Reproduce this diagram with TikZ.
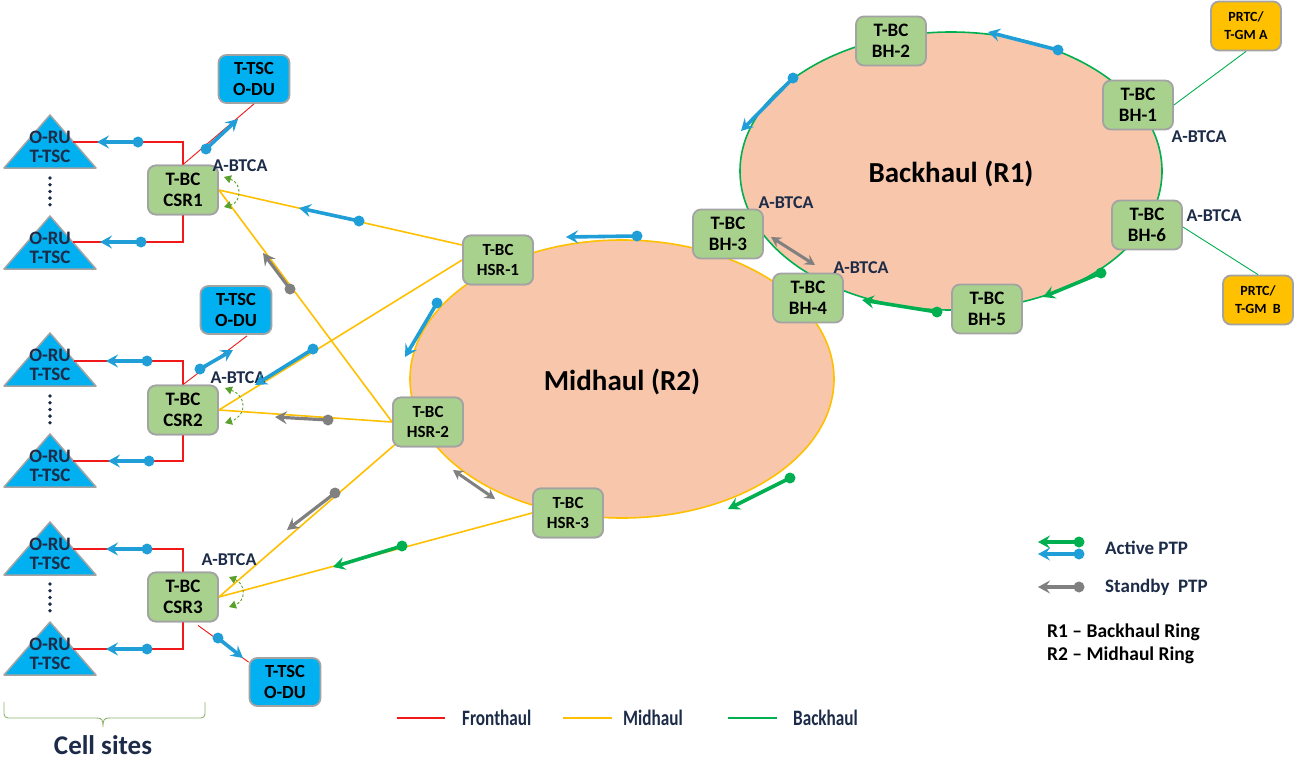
\documentclass[tikz,border=0pt]{standalone}
\usepackage{fontspec}
\setmainfont{Carlito}
\usetikzlibrary{arrows.meta,calc}
\definecolor{ndgreen}{HTML}{A9D18E}
\definecolor{ndborder}{HTML}{A3A3A3}
\definecolor{ndblue}{HTML}{00B0F0}
\definecolor{ndorange}{HTML}{FFC000}
\definecolor{ringfill}{HTML}{F8C6AB}
\definecolor{ringgreen}{HTML}{00B050}
\definecolor{ringyellow}{HTML}{FFC000}
\definecolor{fhred}{HTML}{F01818}
\definecolor{ptpblue}{HTML}{1F9ED7}
\definecolor{ptpgreen}{HTML}{00B050}
\definecolor{ptpgrey}{HTML}{808080}
\definecolor{navy}{HTML}{1C2B48}
\definecolor{arcgreen}{HTML}{5AA02C}
\definecolor{bracegreen}{HTML}{8DB36E}
\newcommand\ptparr[3]{%
  \fill[#1] #2 circle (5.5pt);
  \draw[#1, line width=3.6pt, -{Stealth[length=12pt,width=13pt,inset=4.5pt]}] #2 -- #3;
}
\newcommand\sbyarr[2]{%
  \fill[ptpgrey] #1 circle (5.5pt);
  \draw[ptpgrey, line width=3.2pt, -{Stealth[length=12pt,width=13pt,inset=4.5pt]}] #1 -- #2;
}
\newcommand\rutri[2]{% apex y, name
  \fill[ndblue, draw=ndborder, line width=1.5pt, line join=round] (50,#1) -- (96,#1+53) -- (4,#1+53) -- cycle;
  \node[rutext] (#2) at (50,#1+32) {O-RU\\T-TSC};
}
\newcommand\rudots[1]{%
  \foreach \i in {0,...,4} \fill[navy] (50,#1+6.7*\i) circle (1.9pt);
}
\begin{document}
\begin{tikzpicture}[x=1pt,y=-1pt,
  tbc/.style={draw=ndborder, line width=1.8pt, fill=ndgreen, rounded corners=8pt,
    minimum width=70pt, minimum height=49pt, inner sep=0pt, align=center,
    font=\bfseries\fontsize{19}{21}\selectfont},
  hsr/.style={tbc, font=\bfseries\fontsize{17}{20}\selectfont},
  odu/.style={tbc, fill=ndblue, minimum width=71pt, minimum height=48pt,
    font=\bfseries\fontsize{18.5}{21}\selectfont},
  prtc/.style={tbc, fill=ndorange, font=\bfseries\fontsize{14}{18}\selectfont},
  rutext/.style={inner sep=0pt, align=center, text=navy, font=\bfseries\fontsize{19}{18.5}\selectfont},
  abl/.style={inner sep=0pt, text=navy, font=\bfseries\fontsize{18}{19}\selectfont},
  fh/.style={draw=fhred, line width=2pt},
  fhthin/.style={draw=fhred, line width=0.9pt},
  mh/.style={draw=ringyellow, line width=1.6pt},
  bhthin/.style={draw=ringgreen, line width=0.9pt},
  abtca/.style={draw=arcgreen, line width=0.9pt, dash pattern=on 2.5pt off 2pt,
    {Triangle[length=7pt,width=8pt]}-{Triangle[length=7pt,width=8pt]}},
  dbl/.style={draw=ptpgrey, line width=3pt,
    {Stealth[length=10pt,width=11pt,inset=3.5pt]}-{Stealth[length=10pt,width=11pt,inset=3.5pt]}},
  legtext/.style={anchor=west, inner sep=0pt, text=navy, font=\bfseries\fontsize{19}{22}\selectfont},
]
\useasboundingbox (0,0) rectangle (1295,760);
\fill[white] (0,0) rectangle (1295,760);

% rings
\draw[fill=ringfill, draw=ringgreen, line width=1.6pt] (951,171) ellipse [x radius=211, y radius=139];
\draw[fill=ringfill, draw=ringyellow, line width=1.6pt] (622,379) ellipse [x radius=212, y radius=139];
\node[font=\bfseries\fontsize{29}{32}\selectfont] (r1lab) at (951,174) {Backhaul (R1)};
\node[font=\bfseries\fontsize{29}{32}\selectfont] (r2lab) at (622,382) {Midhaul (R2)};

% O-RU triangles
\rutri{115}{ru11}
\rutri{216}{ru12}
\rutri{333}{ru21}
\rutri{434}{ru22}
\rutri{522}{ru31}
\rutri{622}{ru32}
\rudots{178}
\rudots{396}
\rudots{584}
\coordinate (ru11e) at (73,142);
\coordinate (ru12e) at (73,242);
\coordinate (ru21e) at (74,361);
\coordinate (ru22e) at (73,461);
\coordinate (ru31e) at (73,549);
\coordinate (ru32e) at (73,649);

% nodes (positions)
\node[tbc] (csr1) at (183,190) {T-BC\\CSR1};
\node[tbc] (csr2) at (183,410) {T-BC\\CSR2};
\node[tbc] (csr3) at (183,597) {T-BC\\CSR3};
\node[hsr] (hsr1) at (498,260) {T-BC\\HSR-1};
\node[hsr] (hsr2) at (428,422) {T-BC\\HSR-2};
\node[hsr] (hsr3) at (568,513) {T-BC\\HSR-3};

% midhaul links
\draw[mh] (csr1.east) -- ($(hsr1.west)+(0,-15)$);
\draw[mh] (csr1.east) -- (hsr2.west);
\draw[mh] (csr2.east) -- (hsr1.west);
\draw[mh] (csr2.east) -- (hsr2.west);
\draw[mh] (csr3.east) -- ($(hsr2.south west)+(3,-3)$);
\draw[mh] (csr3.east) -- (hsr3.west);

% fronthaul links
\draw[fh] (csr1.north) |- (ru11e);
\draw[fh] (csr1.south) |- (ru12e);
\draw[fh] (csr2.north) |- (ru21e);
\draw[fh] (csr2.south) |- (ru22e);
\draw[fh] (csr3.north) |- (ru31e);
\draw[fh] (csr3.south) |- (ru32e);

\node[odu] (odu1) at (254,79) {T-TSC\\O-DU};
\node[odu] (odu2) at (236,310) {T-TSC\\O-DU};
\node[odu] (odu3) at (285,682) {T-TSC\\O-DU};
\draw[fhthin] (csr1.north) -- (odu1.south);
\draw[fhthin] (csr2.north) -- ($(odu2.south)+(11,1)$);
\draw[fhthin] ($(csr3.south)+(15,3)$) -- ($(odu3.north west)+(0,5)$);

% redraw CSR nodes on top
\node[tbc] at (csr1) {T-BC\\CSR1};
\node[tbc] at (csr2) {T-BC\\CSR2};
\node[tbc] at (csr3) {T-BC\\CSR3};
\node[hsr] at (hsr1) {T-BC\\HSR-1};
\node[hsr] at (hsr2) {T-BC\\HSR-2};
\node[hsr] at (hsr3) {T-BC\\HSR-3};

% backhaul nodes
\node[tbc] (bh1) at (1138,105) {T-BC\\BH-1};
\node[tbc] (bh2) at (891,41) {T-BC\\BH-2};
\node[tbc] (bh3) at (728,234) {T-BC\\BH-3};
\node[tbc] (bh4) at (808,298) {T-BC\\BH-4};
\node[tbc] (bh5) at (987,309) {T-BC\\BH-5};
\node[tbc] (bh6) at (1147,225) {T-BC\\BH-6};
\node[prtc] (prtca) at (1246,26) {PRTC/\\T-GM A};
\node[prtc] (prtcb) at (1258,300) {PRTC/\\T-GM~~B};
\draw[bhthin] (bh1.east) -- (prtca.south);
\draw[bhthin] ($(bh6.east)+(0,2)$) -- (prtcb.north);

% A-BTCA labels
\node[abl] (ab1) at (240,166) {A-BTCA};
\node[abl] (ab2) at (238,378) {A-BTCA};
\node[abl] (ab3) at (229,560) {A-BTCA};
\node[abl] (ab4) at (786,203) {A-BTCA};
\node[abl] (ab5) at (861,268) {A-BTCA};
\node[abl] (ab6) at (1199,137) {A-BTCA};
\node[abl] (ab7) at (1214,216) {A-BTCA};

% A-BTCA dashed arcs
\draw[abtca] (224,177) .. controls (242,183) and (242,202) .. (224,207);
\draw[abtca] (225,388) .. controls (247,396) and (247,416) .. (225,423);
\draw[abtca] (229,577) .. controls (246,584) and (246,601) .. (229,607);

% fronthaul PTP
\ptparr{ptpblue}{(138,142)}{(97,142)}
\ptparr{ptpblue}{(141,242)}{(100,242)}
\ptparr{ptpblue}{(147,361)}{(106,361)}
\ptparr{ptpblue}{(149,461)}{(108,461)}
\ptparr{ptpblue}{(147,549)}{(106,549)}
\ptparr{ptpblue}{(147,649)}{(106,649)}
\ptparr{ptpblue}{(206,149)}{(238,119)}
\ptparr{ptpblue}{(200,369)}{(233,350)}
\ptparr{ptpblue}{(218,638)}{(243,658)}

% midhaul PTP
\ptparr{ptpblue}{(359,221)}{(299,208)}
\sbyarr{(290,289)}{(263,253)}
\ptparr{ptpblue}{(313,349)}{(255,385)}
\sbyarr{(328,420)}{(275,417)}
\sbyarr{(335,493)}{(287,530)}
\ptparr{ptpgreen}{(402,546)}{(333,567)}
\ptparr{ptpblue}{(637,236)}{(566,237)}
\ptparr{ptpblue}{(437,303)}{(405,357)}
\draw[dbl] (453,470) -- (495,499);
\ptparr{ptpgreen}{(790,478)}{(728,509)}

% backhaul PTP
\ptparr{ptpblue}{(1058,50)}{(988,32)}
\ptparr{ptpblue}{(793,78)}{(741,131)}
\ptparr{ptpgreen}{(1101,273)}{(1043,297)}
\ptparr{ptpgreen}{(937,312)}{(862,300)}
\draw[dbl] (771,237) -- (815,265);

% legend PTP
\ptparr{ptpgreen}{(1079,542)}{(1038,542)}
\ptparr{ptpblue}{(1079,554)}{(1038,554)}
\sbyarr{(1079,587)}{(1038,587)}
\node[legtext] (lact) at (1105,548) {Active PTP};
\node[legtext] (lsby) at (1105,587) {Standby~~PTP};
\node[anchor=west, inner sep=0pt, font=\bfseries\fontsize{19.5}{22}\selectfont] (lr1) at (1047,632) {R1 – Backhaul Ring};
\node[anchor=west, inner sep=0pt, font=\bfseries\fontsize{19.5}{22}\selectfont] (lr2) at (1047,655) {R2 – Midhaul Ring};

% legend lines
\coordinate (lf1) at (397,718); \coordinate (lf2) at (445,718);
\coordinate (lm1) at (563,718); \coordinate (lm2) at (612,718);
\coordinate (lb1) at (728,718); \coordinate (lb2) at (777,718);
\draw[fhred, line width=2.2pt] (lf1) -- (lf2);
\draw[ringyellow, line width=2.2pt] (lm1) -- (lm2);
\draw[ringgreen, line width=2.2pt] (lb1) -- (lb2);
\node[legtext, font=\bfseries\fontsize{22}{24}\selectfont] (lfh) at (462,718) {\scalebox{0.78}[1]{Fronthaul}};
\node[legtext, font=\bfseries\fontsize{22}{24}\selectfont] (lmh) at (623,718) {\scalebox{0.78}[1]{Midhaul}};
\node[legtext, font=\bfseries\fontsize{22}{24}\selectfont] (lbh) at (793,718) {\scalebox{0.78}[1]{Backhaul}};

% cell sites brace
\draw[bracegreen, line width=0.9pt, rounded corners=4pt] (4,702) -- (4,718) -- (97,718);
\draw[bracegreen, line width=0.9pt, rounded corners=4pt] (109,718) -- (205,718) -- (205,702);
\draw[bracegreen, line width=0.9pt] (97,718) .. controls (102,718) and (103,720) .. (103,727)
  .. controls (103,720) and (104,718) .. (109,718);
\node[text=navy, anchor=base, inner sep=0pt, font=\bfseries\fontsize{27}{30}\selectfont] (cells) at (103,754) {Cell sites};
\end{tikzpicture}
\end{document}
